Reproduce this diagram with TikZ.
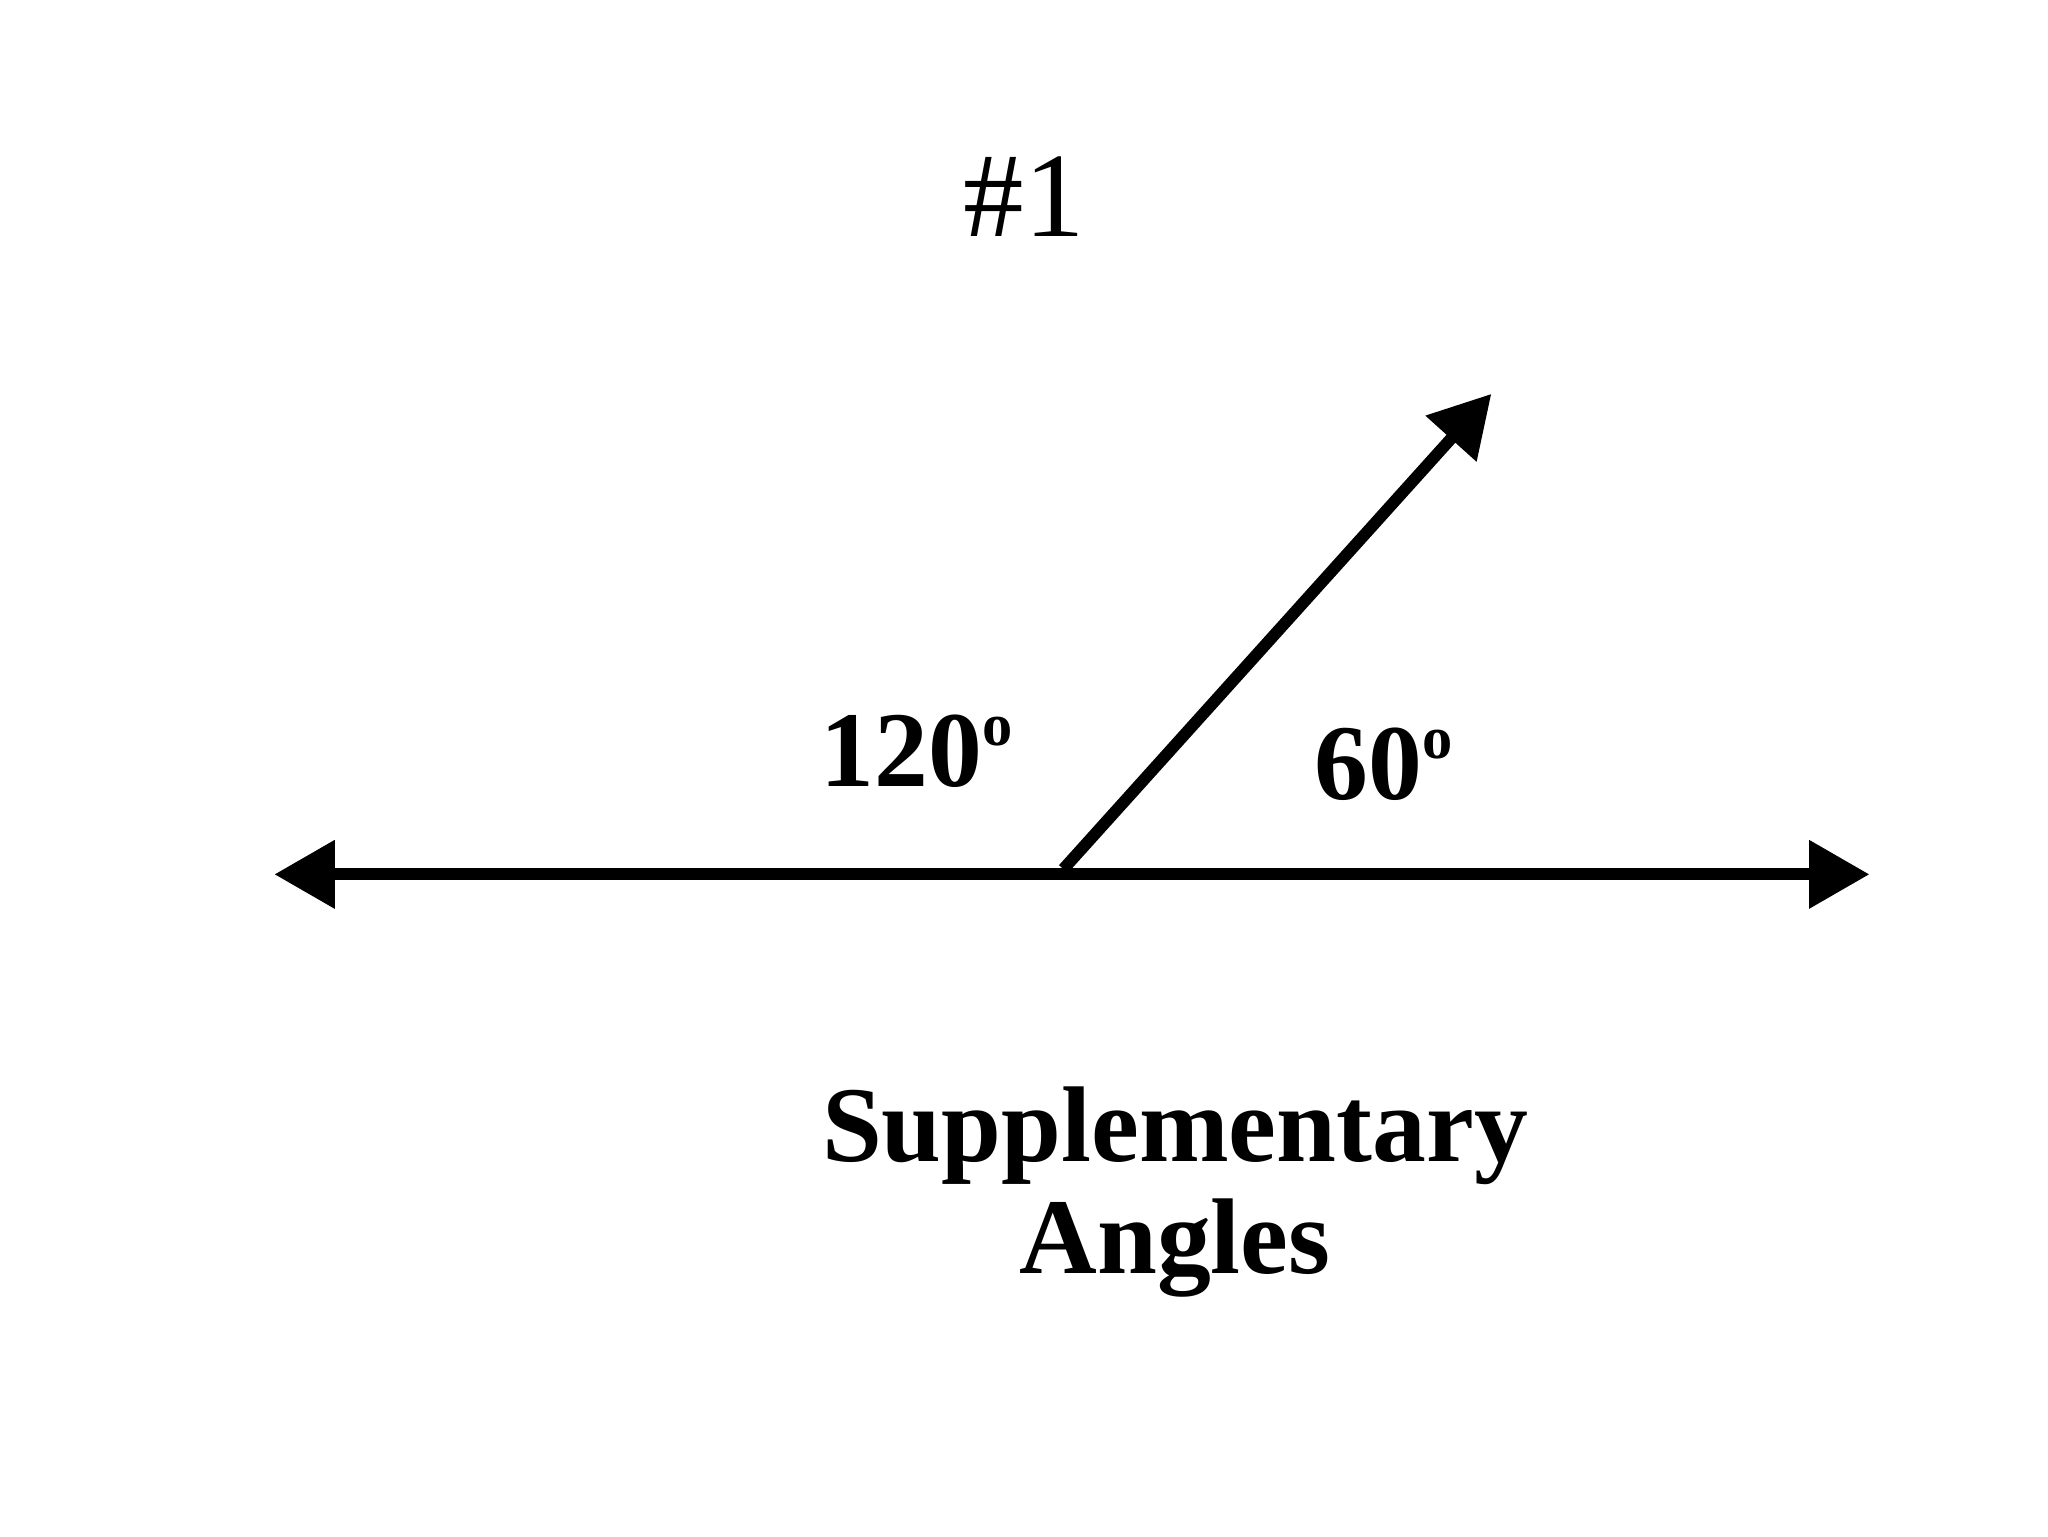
\documentclass[tikz,border=0pt]{standalone}
\usepackage{fontspec}
\setmainfont{Liberation Serif}
\usetikzlibrary{arrows.meta}
\begin{document}
\begin{tikzpicture}[x=1pt,y=-1pt,
  ln/.style={line width=9pt,-{Triangle[length=46pt,width=50pt]}},
  lbl/.style={font=\bfseries\fontsize{82}{90}\selectfont,inner sep=0}]
\useasboundingbox (0,0) rectangle (1560,1170);
\newcommand{\dg}{\raisebox{0.38em}{\fontsize{46}{46}\selectfont o}}
\coordinate (L) at (209,666);
\coordinate (R) at (1424,666);
\coordinate (V) at (810,662);
\coordinate (T) at (1136,300);
\draw[ln,{Triangle[length=46pt,width=50pt]}-{Triangle[length=46pt,width=50pt]}] (L) -- (R);
\draw[ln] (V) -- (T);
\node[font=\fontsize{92}{100}\selectfont,inner sep=0] (t) at (780,150) {\#1};
\node[lbl] (a) at (698,572) {120\dg};
\node[lbl] (b) at (1054,582) {60\dg};
\node[lbl,align=center] (c) at (895,908) {Supplementary\\[-4pt]Angles};
\end{tikzpicture}
\end{document}
